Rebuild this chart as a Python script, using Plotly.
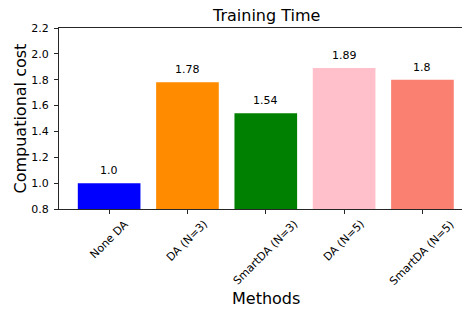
import plotly.graph_objects as go

methods = ["None DA", "DA (N=3)", "SmartDA (N=3)", "DA (N=5)", "SmartDA (N=5)"]
costs = [1.0, 1.78, 1.54, 1.89, 1.80]
cost_labels = ["1.0", "1.78", "1.54", "1.89", "1.8"]
colors = ["#0000FF", "#FF8C00", "#008000", "#FFC0CB", "#FA8072"]
y_ticks = [0.8, 1.0, 1.2, 1.4, 1.6, 1.8, 2.0, 2.2]

FONT = "DejaVu Sans"
AXC = "#262626"

fig = go.Figure()
fig.add_trace(go.Bar(x=methods, y=costs, marker=dict(color=colors, line=dict(width=0)),
                     width=0.8, showlegend=False, hoverinfo="skip"))

annotations = []
for m, v, t in zip(methods, costs, cost_labels):
    annotations.append(dict(x=m, y=v, xref="x", yref="y", text=t, showarrow=False,
                            xanchor="center", yanchor="bottom", yshift=4,
                            font=dict(family=FONT, size=11, color="#000")))
for m in methods:
    annotations.append(dict(x=m, y=0, xref="x", yref="paper", text=m, showarrow=False,
                            textangle=-45, xanchor="center", yanchor="top", yshift=-6,
                            font=dict(family=FONT, size=11, color="#000")))
annotations.append(dict(x=0.514, y=0, xref="paper", yref="paper", text="Methods",
                        showarrow=False, xanchor="center", yanchor="middle", yshift=-89,
                        font=dict(family=FONT, size=16, color="#000")))
annotations.append(dict(x=0, y=0.5, xref="paper", yref="paper", text="Compuational cost",
                        showarrow=False, textangle=-90, xanchor="center", yanchor="middle",
                        xshift=-39, font=dict(family=FONT, size=16, color="#000")))
annotations.append(dict(x=0.514, y=1, xref="paper", yref="paper", text="Training Time",
                        showarrow=False, xanchor="center", yanchor="bottom", yshift=1,
                        font=dict(family=FONT, size=16, color="#000")))

fig.update_layout(
    width=462, height=310,
    margin=dict(l=59, r=0, t=28, b=101),
    paper_bgcolor="white", plot_bgcolor="white",
    font=dict(family=FONT, size=11, color="#000"),
    annotations=annotations,
    bargap=0.2,
)
fig.update_xaxes(type="category", range=[-0.64, 4.505], showgrid=False, zeroline=False,
                 showline=True, linecolor=AXC, linewidth=1, mirror=True,
                 ticks="outside", ticklen=4, tickwidth=1, tickcolor=AXC,
                 showticklabels=False)
fig.update_yaxes(range=[0.8, 2.2], tickvals=y_ticks, ticktext=[f"{v:.1f}" for v in y_ticks],
                 showgrid=False, zeroline=False, showline=True, linecolor=AXC, linewidth=1,
                 ticks="outside", ticklen=4, tickwidth=1, tickcolor=AXC,
                 tickfont=dict(family=FONT, size=11, color="#000"), ticklabelstandoff=3)

fig.write_html("out.html", config={"displayModeBar": False, "staticPlot": True},
               post_script="document.body.style.margin='0';document.body.style.overflow='hidden';")
